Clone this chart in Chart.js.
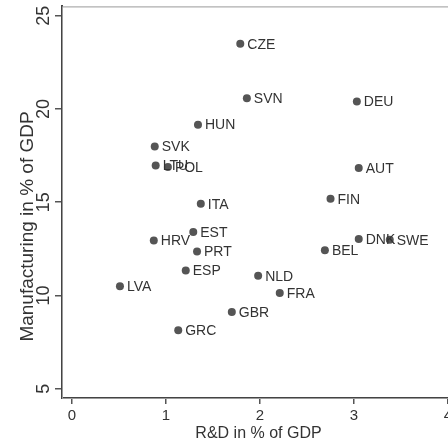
<!DOCTYPE html>
<html>
<head>
<meta charset="utf-8">
<script src="https://cdn.jsdelivr.net/npm/chart.js@4"></script>
<style>
  html, body { margin: 0; padding: 0; background: #fff; overflow: hidden; }
  #wrap { width: 460px; height: 443px; position: relative; }
</style>
</head>
<body>
<div id="wrap"><canvas id="mycanvas"></canvas></div>
<script>
// data
var countries = ['CZE','SVN','DEU','HUN','SVK','LTU','POL','AUT','FIN','ITA','EST','DNK','SWE','HRV','BEL','PRT','ESP','NLD','LVA','FRA','GBR','GRC'];
var rd =        [1.79, 1.86, 3.03, 1.34, 0.88, 0.89, 1.02, 3.05, 2.75, 1.37, 1.29, 3.05, 3.38, 0.87, 2.69, 1.33, 1.21, 1.98, 0.51, 2.21, 1.70, 1.13];
var manuf =     [23.5, 20.57, 20.4, 19.16, 17.99, 16.97, 16.89, 16.83, 15.19, 14.92, 13.40, 13.03, 12.99, 12.94, 12.42, 12.36, 11.34, 11.06, 10.49, 10.13, 9.11, 8.13];
var xTicks = [0, 1, 2, 3, 4];
var yTicks = [5, 10, 15, 20, 25];
var xTitle = 'R&D in % of GDP';
var yTitle = 'Manufacturing in % of GDP';

var FONT = 'Liberation Sans, Arial, sans-serif';

var points = [];
for (var i in countries) {
	points.push({x: rd[i], y: manuf[i]});
}

// frame, point labels and rotated y texts
var extras = {
	id: 'extras',
	beforeDatasetsDraw: function(chart) {
		var ctx = chart.ctx, a = chart.chartArea;
		ctx.save();
		ctx.strokeStyle = '#9a9a9a';
		ctx.lineWidth = 1;
		ctx.strokeRect(a.left + 0.5, a.top + 0.5, a.right - a.left, a.bottom - a.top);
		ctx.restore();
	},
	afterDatasetsDraw: function(chart) {
		var ctx = chart.ctx, a = chart.chartArea;
		var meta = chart.getDatasetMeta(0);
		ctx.save();
		ctx.fillStyle = '#333';
		ctx.font = '14px ' + FONT;
		ctx.textAlign = 'left';
		ctx.textBaseline = 'middle';
		meta.data.forEach(function(el, i) {
			ctx.fillText(countries[i], el.x + 7, el.y + 1);
		});

		var ys = chart.scales.y;
		ctx.font = '18px ' + FONT;
		ctx.textAlign = 'center';
		ctx.textBaseline = 'alphabetic';
		yTicks.forEach(function(v) {
			ctx.save();
			ctx.translate(a.left - 12.7, ys.getPixelForValue(v));
			ctx.rotate(-Math.PI / 2);
			ctx.fillText(String(v), 0, 0);
			ctx.restore();
		});
		ctx.font = '19px ' + FONT;
		ctx.translate(a.left - 28.7, 226.5);
		ctx.rotate(-Math.PI / 2);
		ctx.fillText(yTitle, 0, 0);
		ctx.restore();
	}
};

var ctx = document.getElementById('mycanvas');
var scatter = new Chart(ctx, {
	type: 'scatter',
	data: {
		datasets: [{
			data: points,
			backgroundColor: '#555',
			borderColor: '#555',
			borderWidth: 0,
			pointRadius: 4,
			pointHoverRadius: 4
		}]
	},
	options: {
		responsive: true,
		maintainAspectRatio: false,
		animation: false,
		events: [],
		layout: { padding: { left: 0, top: 6.4, right: 5, bottom: 0 } },
		plugins: { legend: { display: false }, tooltip: { enabled: false } },
		scales: {
			x: {
				type: 'linear',
				min: -0.1064,
				max: 4.074,
				afterBuildTicks: function(s) { s.ticks = xTicks.map(function(v) { return {value: v}; }); },
				afterFit: function(s) { s.height = 45; },
				grid: { drawOnChartArea: false, drawTicks: true, tickLength: 6, color: '#555', lineWidth: 1.5 },
				border: { display: true, color: '#444', width: 2 },
				ticks: { color: '#333', font: { family: FONT, size: 15 }, padding: 3, maxRotation: 0 },
				title: { display: true, text: xTitle, color: '#333', font: { family: FONT, size: 16 }, padding: 0 }
			},
			y: {
				type: 'linear',
				min: 4.5,
				max: 25.5,
				afterBuildTicks: function(s) { s.ticks = yTicks.map(function(v) { return {value: v}; }); },
				afterFit: function(s) { s.width = 62; },
				grid: { drawOnChartArea: false, drawTicks: true, tickLength: 7, color: '#555', lineWidth: 1.5 },
				border: { display: true, color: '#444', width: 2 },
				ticks: { display: false }
			}
		}
	},
	plugins: [extras]
});
</script>
</body>
</html>
